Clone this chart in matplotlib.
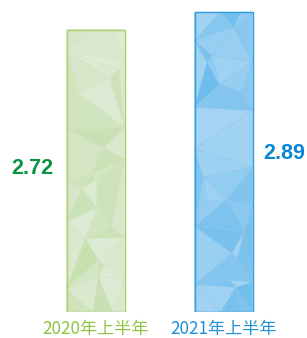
import numpy as np
import matplotlib.pyplot as plt
import matplotlib.tri as mtri
from matplotlib.colors import to_rgb

plt.rcParams['font.family'] = ['Noto Sans CJK SC', 'DejaVu Sans']

# veriler
categories = ['2020年上半年', '2021年上半年']
values = [2.72, 2.89]
value_labels = ['2.72', '2.89']

# renkler
fill_light = ['#e3efdf', '#b9dcf5']
fill_dark = ['#c3dca8', '#5fb6ea']
edge_colors = ['#abd266', '#2f9de0']
label_colors = ['#8cc43f', '#1e8fd9']
value_colors = ['#079440', '#0a86d4']

fig = plt.figure(figsize=(3.07, 3.38), dpi=100)
ax = fig.add_axes([0, 26 / 338, 1, 312 / 338])
ax.set_xlim(-0.746, 1.652)
ax.set_ylim(0, 3.006)
ax.axis('off')

width = 0.453
rng = np.random.default_rng(11)  # sadece doku (low-poly) için

for i, v in enumerate(values):
    x0 = i - width / 2
    # low-poly doku noktaları
    pts = [[0, 0], [1, 0], [0, 1], [1, 1]]
    for t in np.linspace(0.12, 0.88, 5):
        pts += [[0, t + rng.uniform(-0.05, 0.05)], [1, t + rng.uniform(-0.05, 0.05)]]
    for t in [0.45, 0.8]:
        pts += [[t, 0], [t, 1]]
    pts += list(np.column_stack([rng.uniform(0.1, 0.92, 13), rng.uniform(0.05, 0.95, 13)]))
    pts = np.array(pts)
    tx = x0 + pts[:, 0] * width
    ty = pts[:, 1] * v
    tri = mtri.Triangulation(tx, ty)
    lo, hi = np.array(to_rgb(fill_light[i])), np.array(to_rgb(fill_dark[i]))
    k = rng.uniform(0.2, 0.85, len(tri.triangles))
    line_c = lo * 0.4 + hi * 0.6
    for tr, kk in zip(tri.triangles, k):
        ax.fill(tx[tr], ty[tr], color=lo + (hi - lo) * kk, lw=0.35, ec=line_c, zorder=2)
    ax.bar(i, v, width=width, color='none', edgecolor=edge_colors[i], lw=1.0, zorder=3)

    ax.text(i, -0.08, categories[i], ha='center', va='top', fontsize=12.3,
            color=label_colors[i], zorder=4)

ax.text(0 - width / 2 - 0.1, values[0] / 2 + 0.02, value_labels[0], ha='right', va='center',
        fontsize=15.5, fontweight='bold', color=value_colors[0], family='Liberation Sans')
ax.text(1 + width / 2 + 0.085, values[1] / 2 + 0.08, value_labels[1], ha='left', va='center',
        fontsize=15.5, fontweight='bold', color=value_colors[1], family='Liberation Sans')

fig.savefig('out.png', dpi=100)
